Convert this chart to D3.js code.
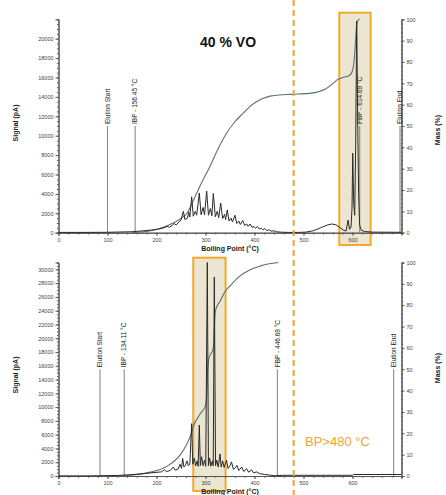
<!DOCTYPE html>
<html>
<head>
<meta charset="utf-8">
<script src="https://cdn.jsdelivr.net/npm/d3@7"></script>
<style>
  body { margin: 0; background: #fff; }
  svg { display: block; font-family: "Liberation Sans", Arial, sans-serif; }
</style>
</head>
<body>
<div id="chart"></div>
<script>
// boiling point axis
var bpTicks = [0, 100, 200, 300, 400, 500, 600];
var massTicks = [0, 10, 20, 30, 40, 50, 60, 70, 80, 90, 100];

// 40 % VO run: [boiling point, signal pA]
var topSignal = [[0,30],[50,30],[100,40],[150,100],[170,180],[190,280],[205,380],[215,500],[222,650],[226,560],[232,750],[236,950],[240,800],[246,1100],[250,1300],[254.8,2200],[258,1350],[263,1500],[266,2100],[268,1600],[271.8,3700],[275,1700],[279,2200],[282,1800],[287.4,4100],[291,1850],[295,2600],[298,1850],[302.4,4300],[306,1800],[310,2500],[313,1750],[316,4050],[320,1650],[324,2200],[327,1550],[331,3050],[335,1450],[339,1900],[341,1350],[344.5,2350],[348,1200],[352,1500],[355,1100],[360,1800],[364,950],[368,1200],[371,850],[376,1250],[380,750],[384,900],[387,650],[391,900],[395,550],[399,650],[402,450],[406,650],[410,380],[414,450],[417,300],[421,430],[425,220],[430,300],[434,160],[440,200],[445,90],[455,50],[470,30],[490,30],[505,60],[520,200],[535,500],[548,780],[558,900],[566,820],[574,550],[582,250],[587,180],[591,1300],[594,350],[597,600],[599,2500],[600.5,8200],[602.5,3000],[604.5,1800],[606.5,9000],[608.6,21800],[610.5,12000],[612.5,4000],[614.5,800],[618,250],[625,120],[640,60],[700,40]];
// 40 % VO run: [boiling point, cumulative mass %]
var topMass = [[150,0],[186,0.8],[200,1.5],[234,4.5],[255,7.5],[262,9],[275,15],[290,22.5],[309,31],[325,39],[343,46.6],[360,52],[377,56],[390,59],[404,61.4],[418,63],[431.6,64],[450,64.5],[472,64.8],[490,65],[513,65.3],[530,66],[545,67.3],[558,69.5],[568,71.5],[582,72.8],[595,73.9],[600,76],[603,80],[605,85.6],[607,93],[608.6,98],[611,99.5],[614.7,100]];
var topMarkers = [
  { bp: 100, label: "Elution Start" },
  { bp: 156.45, label: "IBP - 156.45 °C" },
  { bp: 614.69, label: "FBP - 614.69 °C" },
  { bp: 697, label: "Elution End" }
];

// second run
var bottomSignal = [[0,20],[60,20],[85,40],[120,80],[150,200],[175,350],[195,500],[210,600],[216,900],[220,650],[228,800],[234,1300],[238,850],[244,1000],[248,1700],[251,1100],[253.4,2550],[256,1300],[259,1500],[262,2200],[265,1500],[268,1700],[271.8,7600],[274,1700],[277,2600],[280,1500],[283,2200],[285,1400],[287.4,7400],[289.5,1500],[292,2800],[295,1500],[298,2300],[300.5,1400],[303.7,31000],[306,1500],[308.5,2600],[311,1400],[314,2200],[315.8,1500],[318,28900],[320.5,1500],[323,2300],[326,1300],[329.6,3200],[332,1300],[335,2200],[338,1250],[343,2300],[346,1100],[350,1500],[353,2050],[357,950],[361,1200],[364,1550],[368,800],[374,1300],[378,650],[384,1070],[388,550],[394,900],[398,450],[404.5,600],[410,350],[420,230],[430,130],[442,40],[460,100],[600,100],[602,220],[700,220]];
var bottomMass = [[120,0],[153,0.5],[187,1.8],[221,4.5],[248,9.8],[262,15],[272,20.5],[275,23],[289,29],[300,33],[302,36],[304,47],[306,54],[309,56.5],[315,59],[317,63],[319,74],[321,78],[330,82],[340,86.4],[350,89],[370,93.6],[390,96.5],[411,98.3],[430,99.4],[449,100]];
var bottomMarkers = [
  { bp: 84.7, label: "Elution Start" },
  { bp: 134.11, label: "IBP - 134.11 °C" },
  { bp: 446.68, label: "FBP - 446.68 °C" },
  { bp: 684, label: "Elution End" }
];

var cutBP = 480;

var W = 446, H = 495;
var svg = d3.select("#chart").append("svg").attr("width", W).attr("height", H);

var x = d3.scaleLinear().domain([0, 700]).range([58.5, 401.5]);

var panels = [
  { signal: topSignal, mass: topMass, markers: topMarkers, bottom: 232.7, top: 19.3, sigMax: 22000, sigTop: 20000,
    box: [573, 637], boxY: [12.7, 245], sigTitleY: 123, massTitleY: 130, title: "40 % VO" },
  { signal: bottomSignal, mass: bottomMass, markers: bottomMarkers, bottom: 476, top: 262.5, sigMax: 31000, sigTop: 30000,
    box: [275, 341], boxY: [257.7, 491], sigTitleY: 375, massTitleY: 368 }
];

var axisColor = "#555";

function styleAxis(g) {
  g.select(".domain").attr("stroke", axisColor).attr("stroke-width", 1);
  g.selectAll(".tick line").attr("stroke", axisColor);
  g.selectAll(".tick text").attr("fill", "#444").attr("font-size", 5.5);
}

panels.forEach(function (p) {
  var ySig = d3.scaleLinear().domain([0, p.sigMax]).range([p.bottom, p.top]);
  var yMass = d3.scaleLinear().domain([0, 100]).range([p.bottom, p.top]);
  var g = svg.append("g");

  // highlight box behind the traces
  g.append("rect")
    .attr("x", x(p.box[0])).attr("y", p.boxY[0])
    .attr("width", x(p.box[1]) - x(p.box[0])).attr("height", p.boxY[1] - p.boxY[0])
    .attr("fill", "#ece5d1").attr("stroke", "#f4a928").attr("stroke-width", 2);

  // minor ticks first
  g.append("g").attr("transform", "translate(0," + p.bottom + ")")
    .call(d3.axisBottom(x).tickValues(d3.range(0, 701, 20)).tickSize(1.8).tickFormat(""))
    .call(styleAxis);
  g.append("g").attr("transform", "translate(" + x(0) + ",0)")
    .call(d3.axisLeft(ySig).tickValues(d3.range(0, p.sigMax + 1, 500)).tickSize(1.5).tickFormat(""))
    .call(styleAxis);
  g.append("g").attr("transform", "translate(" + x(700) + ",0)")
    .call(d3.axisRight(yMass).tickValues(d3.range(0, 101, 2)).tickSize(1.5).tickFormat(""))
    .call(styleAxis);

  // major ticks
  g.append("g").attr("transform", "translate(0," + p.bottom + ")")
    .call(d3.axisBottom(x).tickValues(bpTicks).tickSize(3).tickPadding(2).tickFormat(d3.format("d")))
    .call(styleAxis);
  g.append("g").attr("transform", "translate(" + x(0) + ",0)")
    .call(d3.axisLeft(ySig).tickValues(d3.range(0, p.sigTop + 1, 2000)).tickSize(3).tickPadding(2).tickFormat(d3.format("d")))
    .call(styleAxis);
  g.append("g").attr("transform", "translate(" + x(700) + ",0)")
    .call(d3.axisRight(yMass).tickValues(massTicks).tickSize(3).tickPadding(2).tickFormat(d3.format("d")))
    .call(styleAxis);

  // marker lines with rotated labels
  p.markers.forEach(function (m) {
    var mx = x(m.bp);
    g.append("line")
      .attr("x1", mx).attr("x2", mx)
      .attr("y1", p.bottom).attr("y2", yMass(50))
      .attr("stroke", "#8a8a8a").attr("stroke-width", 1.1);
    g.append("text")
      .attr("transform", "translate(" + mx + "," + (yMass(50) - 2) + ") rotate(-90)")
      .attr("dy", "0.35em")
      .attr("font-size", 6.5)
      .attr("fill", "#222")
      .text(m.label);
  });

  // cumulative mass curve
  var massLine = d3.line()
    .x(function (d) { return x(d[0]); })
    .y(function (d) { return yMass(d[1]); })
    .curve(d3.curveMonotoneX);
  g.append("path").datum(p.mass)
    .attr("d", massLine)
    .attr("fill", "none").attr("stroke", "#5b6f7b").attr("stroke-width", 1.1);

  // detector signal
  var sigLine = d3.line()
    .x(function (d) { return x(d[0]); })
    .y(function (d) { return ySig(d[1]); });
  g.append("path").datum(p.signal)
    .attr("d", sigLine)
    .attr("fill", "none").attr("stroke", "#2a2a2a").attr("stroke-width", 1)
    .attr("stroke-linejoin", "round");

  // axis titles
  g.append("text")
    .attr("transform", "translate(16," + p.sigTitleY + ") rotate(-90)")
    .attr("text-anchor", "middle").attr("dy", "0.35em")
    .attr("font-size", 7).attr("font-weight", "bold").attr("fill", "#222")
    .text("Signal (pA)");
  g.append("text")
    .attr("transform", "translate(438," + p.massTitleY + ") rotate(-90)")
    .attr("text-anchor", "middle").attr("dy", "0.35em")
    .attr("font-size", 7).attr("font-weight", "bold").attr("fill", "#222")
    .text("Mass (%)");
  g.append("text")
    .attr("x", 230).attr("y", p.bottom + 18)
    .attr("text-anchor", "middle")
    .attr("font-size", 7).attr("font-weight", "bold").attr("fill", "#222")
    .text("Boiling Point (°C)");

  if (p.title) {
    g.append("text")
      .attr("x", 200).attr("y", 47)
      .attr("font-size", 14).attr("font-weight", "bold").attr("fill", "#111")
      .text(p.title);
  }
});

// cut point
svg.append("line")
  .attr("x1", x(cutBP)).attr("x2", x(cutBP))
  .attr("y1", 0).attr("y2", H)
  .attr("stroke", "#f2a431").attr("stroke-width", 2)
  .attr("stroke-dasharray", "6,4");

svg.append("text")
  .attr("x", 305).attr("y", 446)
  .attr("font-size", 13).attr("fill", "#f2a431")
  .text("BP>480 °C");
</script>
</body>
</html>
